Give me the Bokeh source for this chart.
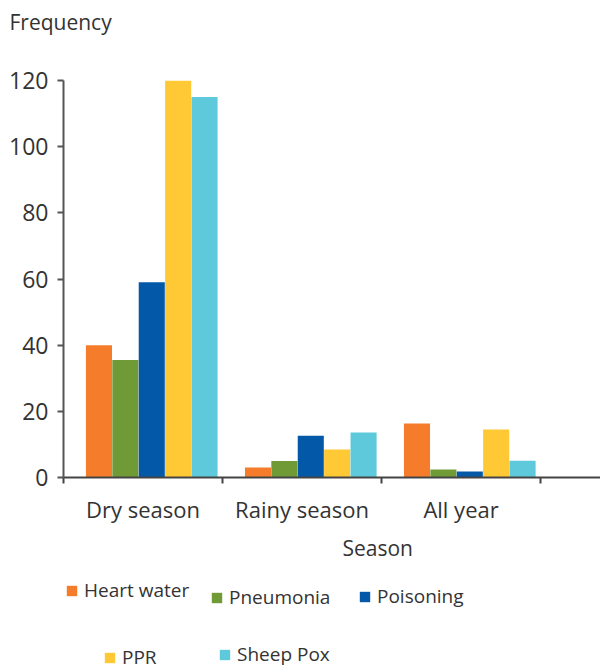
from bokeh.plotting import figure
from bokeh.layouts import column
from bokeh.models import FixedTicker, Legend, LegendItem, Range1d, Title
from bokeh.embed import file_html
from bokeh.resources import INLINE

categories = ["Dry season", "Rainy season", "All year"]
series = ["Heart water", "Pneumonia", "Poisoning", "PPR", "Sheep Pox"]
heart_water = [40, 3, 16.3]
pneumonia = [35.5, 5, 2.4]
poisoning = [59, 12.6, 1.8]
ppr = [120, 8.5, 14.5]
sheep_pox = [115, 13.6, 5.1]
y_ticks = [0, 20, 40, 60, 80, 100, 120]
colors = ["#F47C2B", "#6F9A36", "#0359A8", "#FEC934", "#5EC9DB"]

FONT = "Open Sans"
TXT = "#333333"


def bare(fig):
    fig.outline_line_color = None
    fig.xgrid.visible = False
    fig.ygrid.visible = False
    return fig


# header with the y-axis caption
hdr = bare(figure(width=600, height=48, output_backend="svg", toolbar_location=None,
                  x_axis_type=None, y_axis_type=None, title="Frequency",
                  min_border_left=63, min_border_right=0, min_border_top=0,
                  min_border_bottom=0))
hdr.title.align = "left"
hdr.title.offset = -54
hdr.title.standoff = 10
hdr.title.text_font = FONT
hdr.title.text_font_size = "21px"
hdr.title.text_font_style = "normal"
hdr.title.text_color = TXT

p = bare(figure(width=600, height=522, output_backend="svg", toolbar_location=None,
                title=None, x_range=Range1d(0, 3.377), y_range=Range1d(0, 120),
                min_border_left=63, min_border_right=0, min_border_top=32,
                min_border_bottom=93))

values = [heart_water, pneumonia, poisoning, ppr, sheep_pox]
bar_x = [[i + 0.555 + (k - 2) * 0.166 for i in range(len(categories))]
         for k in range(len(series))]
for xs, vals, col in zip(bar_x, values, colors):
    p.vbar(x=xs, top=vals, bottom=0, width=0.164, fill_color=col, line_color=None)

# x axis
xa = p.xaxis[0]
xa.ticker = FixedTicker(ticks=[i + 0.5 for i in range(len(categories))],
                        minor_ticks=[0, 1, 2, 3])
xa.major_label_overrides = {i + 0.5: c for i, c in enumerate(categories)}
xa.major_tick_out = 0
xa.major_tick_in = 0
xa.minor_tick_out = 6
xa.minor_tick_in = 0
xa.minor_tick_line_color = "#444444"
xa.minor_tick_line_width = 2
xa.axis_line_color = "#444444"
xa.axis_line_width = 2
xa.major_label_text_font = FONT
xa.major_label_text_font_size = "22px"
xa.major_label_text_color = TXT
xa.major_label_standoff = 10

# y axis
ya = p.yaxis[0]
ya.ticker = FixedTicker(ticks=y_ticks)
ya.major_tick_out = 6
ya.major_tick_in = 0
ya.minor_tick_out = 0
ya.minor_tick_in = 0
ya.major_tick_line_color = "#555555"
ya.major_tick_line_width = 2
ya.axis_line_color = "#555555"
ya.axis_line_width = 2
ya.major_label_text_font = FONT
ya.major_label_text_font_size = "23px"
ya.major_label_text_color = TXT
ya.major_label_standoff = 9

p.add_layout(Title(text="Season", align="left", offset=279, standoff=11,
                   text_font=FONT, text_font_size="21px", text_font_style="normal",
                   text_color=TXT), "below")

# legend panel (bars exist here only to feed the legend; kept far out of view)
lg = bare(figure(width=600, height=99, output_backend="svg", toolbar_location=None,
                 x_axis_type=None, y_axis_type=None, x_range=Range1d(0, 3.377),
                 y_range=Range1d(200, 201),
                 min_border_left=63, min_border_right=0, min_border_top=0,
                 min_border_bottom=0))

legend_locs = [(2, 66), (147, 59), (295, 60), (40, -1), (155, 2)]
for name, xs, vals, col, loc in zip(series, bar_x, values, colors, legend_locs):
    r = lg.vbar(x=xs, top=vals, bottom=0, width=0.164, fill_color=col, line_color=None)
    lg.add_layout(Legend(items=[LegendItem(label=name, renderers=[r])], location=loc,
                         orientation="horizontal", padding=0, margin=0, spacing=0,
                         border_line_alpha=0, background_fill_alpha=0,
                         glyph_width=13, glyph_height=13, label_standoff=6,
                         label_height=13, label_text_font=FONT,
                         label_text_font_size="19px", label_text_color=TXT))

layout = column(hdr, p, lg, spacing=0)
open("out.html", "w").write(file_html(layout, INLINE))
